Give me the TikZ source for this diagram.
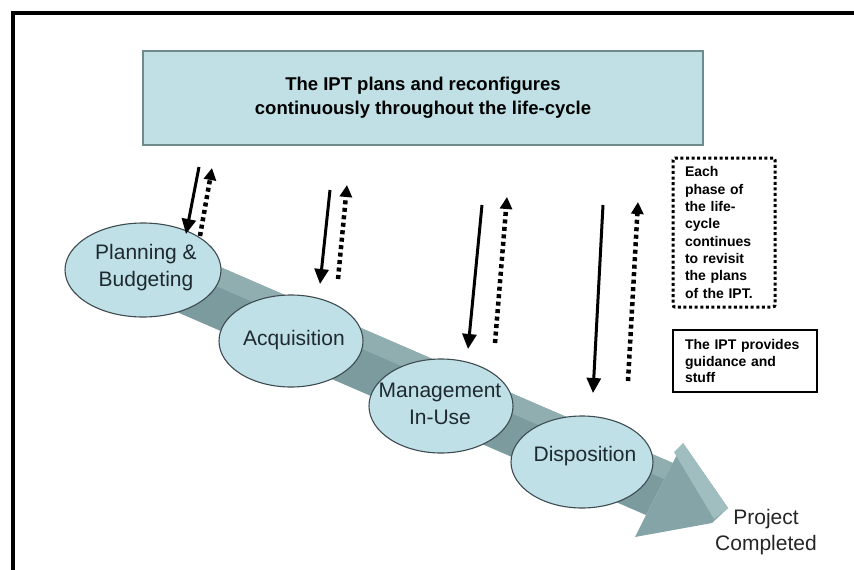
\documentclass[tikz,border=0pt]{standalone}
\usepackage{fontspec}
\setmainfont{Liberation Sans}
\usetikzlibrary{arrows.meta,shapes.geometric}

\definecolor{boxfill}{HTML}{C0E0E5}
\definecolor{boxedge}{HTML}{6F8B8E}
\definecolor{phasefill}{HTML}{BFE0E6}
\definecolor{phaseedge}{HTML}{3E4C52}
\definecolor{bandlight}{HTML}{90AEB0}
\definecolor{banddark}{HTML}{7B9B9E}
\definecolor{headmain}{HTML}{84A4A7}
\definecolor{headface}{HTML}{A0BDC0}
\definecolor{phasetextcol}{HTML}{1E2A30}

\tikzset{
  titlebox/.style={draw=boxedge, line width=1.2pt, fill=boxfill, minimum width=560pt,
    minimum height=94pt, inner sep=0pt, align=center,
    font=\bfseries\fontsize{18.5}{24}\selectfont},
  phase/.style={ellipse, draw=phaseedge, line width=1.1pt, fill=phasefill,
    inner sep=0pt, outer sep=0pt},
  phaselabel/.style={align=center, inner sep=0pt, text=phasetextcol,
    font=\fontsize{21}{27}\selectfont},
  endlabel/.style={align=center, inner sep=0pt, text=black!85,
    font=\fontsize{21}{26}\selectfont},
  downarrow/.style={line width=3pt, -{Triangle[length=15pt,width=14pt]}},
  uparrow/.style={line width=4.5pt, dash pattern=on 4pt off 3.5pt,
    -{Triangle[length=12pt,width=12pt]}},
  notebox/.style={align=left, anchor=center, inner ysep=0pt, inner xsep=12pt,
    font=\bfseries\fontsize{14}{17.3}\selectfont},
}

\begin{document}
\begin{tikzpicture}[x=1pt,y=-1pt]
\useasboundingbox (0,0) rectangle (854,570);
\fill[white] (0,0) rectangle (854,570);

% outer frame (only its left and top edges fall inside the page)
\draw[line width=4pt, line join=miter] (13,575) -- (13,13) -- (860,13);

% title box
\node[titlebox] (ipt) at (423,98)
  {The IPT plans and reconfigures\\continuously throughout the life-cycle};

% the life-cycle band with its arrow head
\fill[banddark] (160,241) -- (672.8,463) -- (646,515) -- (160,304.7) -- cycle;
\fill[bandlight] (160,241) -- (672.8,463) -- (664,479) -- (160,262) -- cycle;
\fill[headmain] (683,443) -- (728,508) -- (712,523) -- (635,537) -- (646,515)
  -- (672.8,463) -- cycle;
\fill[headface] (683,443) -- (728,508) -- (714,519) -- (674,452) -- cycle;

% phases
\node[phase, minimum width=156pt, minimum height=94pt] (plan) at (143,270) {};
\node[phase, minimum width=144pt, minimum height=92pt] (acq) at (291,341) {};
\node[phase, minimum width=144pt, minimum height=94pt] (mgmt) at (441,406) {};
\node[phase, minimum width=142pt, minimum height=92pt] (disp) at (582,462) {};

\node[phaselabel] (plantext) at (146,268) {Planning \&\\Budgeting};
\node[phaselabel] (acqtext) at (294,340) {Acquisition};
\node[phaselabel] (mgmttext) at (440,404) {Management\\In-Use};
\node[phaselabel] (disptext) at (585,456) {Disposition};

\node[endlabel] (done) at (766,532) {Project\\Completed};

% planning flows down, feedback flows back up
\coordinate (d1a) at (199,167); \coordinate (d1b) at (186,234);
\coordinate (u1a) at (200,236); \coordinate (u1b) at (212,168);
\coordinate (d2a) at (330,190); \coordinate (d2b) at (320,284);
\coordinate (u2a) at (338,279); \coordinate (u2b) at (347,185);
\coordinate (d3a) at (482,205); \coordinate (d3b) at (468,349);
\coordinate (u3a) at (495,343); \coordinate (u3b) at (507,197);
\coordinate (d4a) at (603,205); \coordinate (d4b) at (593,393);
\coordinate (u4a) at (628,381); \coordinate (u4b) at (638,202);

\draw[downarrow] (d1a) -- (d1b);
\draw[uparrow] (u1a) -- (u1b);
\draw[downarrow] (d2a) -- (d2b);
\draw[uparrow] (u2a) -- (u2b);
\draw[downarrow] (d3a) -- (d3b);
\draw[uparrow] (u3a) -- (u3b);
\draw[downarrow] (d4a) -- (d4b);
\draw[uparrow] (u4a) -- (u4b);

% side notes
\node[notebox, text width=78pt, minimum height=149pt,
  draw, line width=3pt, dash pattern=on 3pt off 2.6pt, rounded corners=2pt]
  (revisit) at (724,232.5)
  {Each\\phase of\\the life-\\cycle\\continues\\to revisit\\the plans\\of the IPT.};
\node[notebox, text width=120pt, minimum height=62pt, draw, line width=2pt,
  font=\bfseries\fontsize{14}{16.5}\selectfont]
  (guide) at (745,361)
  {The IPT provides\\guidance and\\stuff};
\end{tikzpicture}
\end{document}
